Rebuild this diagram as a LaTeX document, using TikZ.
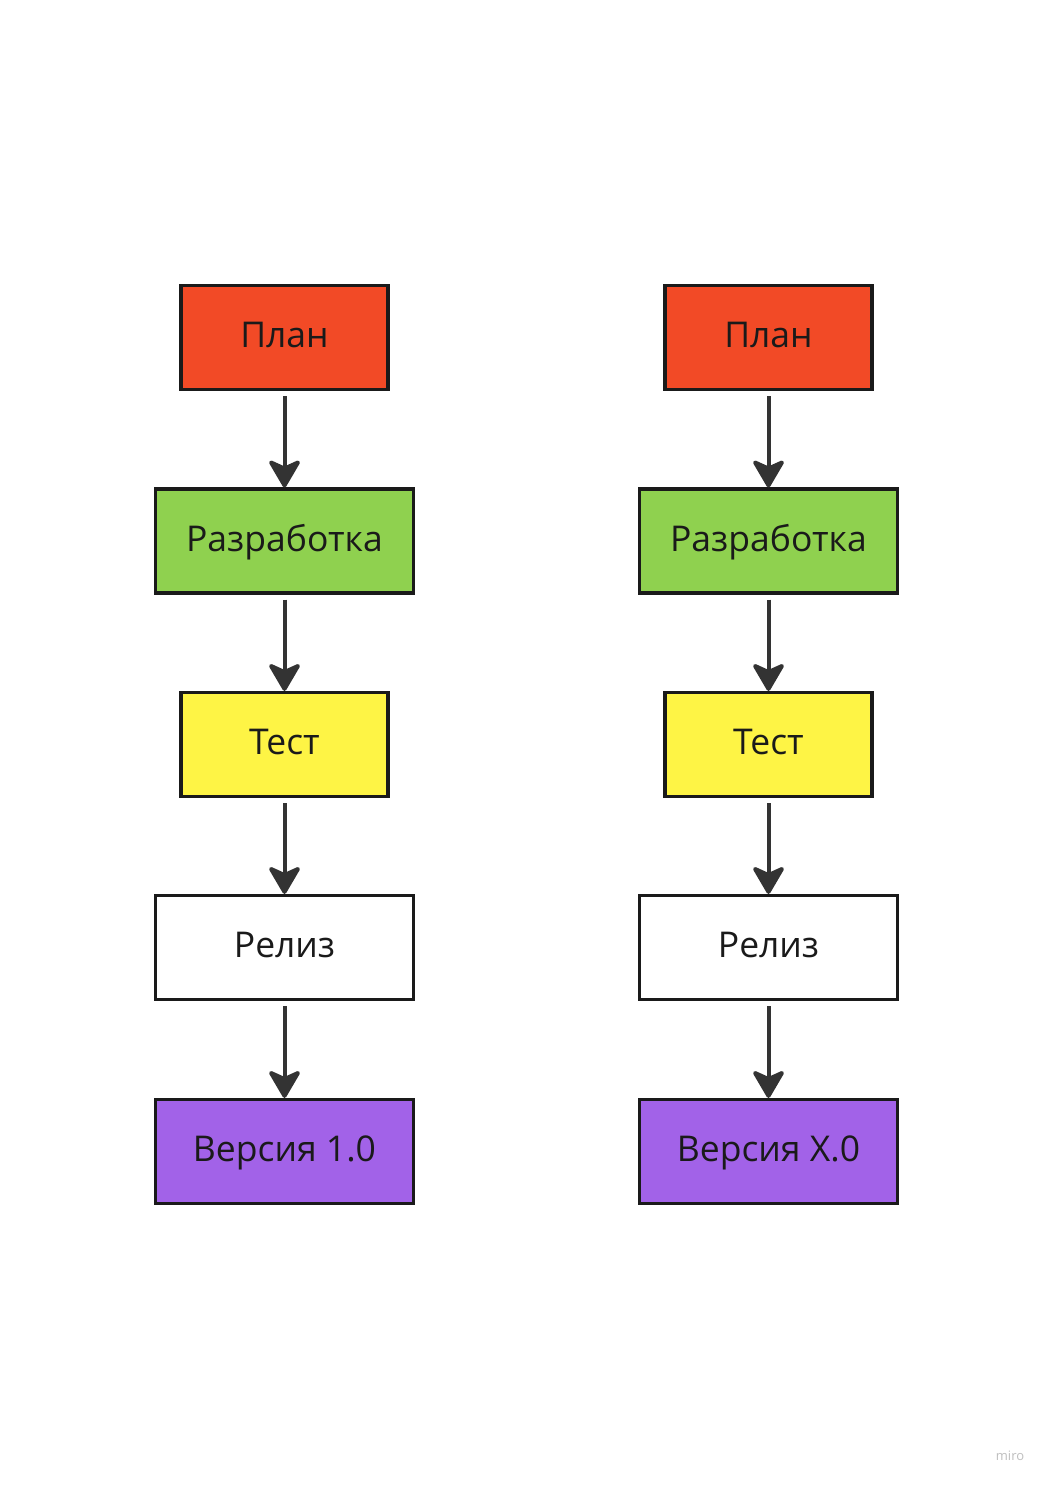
\documentclass[tikz,border=0pt]{standalone}
\usepackage{fontspec}
\setmainfont{Open Sans}
\usetikzlibrary{arrows.meta}
\definecolor{cred}{HTML}{F24A26}
\definecolor{cgreen}{HTML}{8FD14F}
\definecolor{cyellow}{HTML}{FEF445}
\definecolor{cpurple}{HTML}{A262E8}
\definecolor{edge}{HTML}{1A1A1A}
\definecolor{arr}{HTML}{333333}
\begin{document}
\begin{tikzpicture}[x=1pt,y=-1pt,
  box/.style={draw=edge,line width=3.2pt,minimum height=104pt,inner sep=0pt,
    text=edge,font=\fontsize{35.5}{40}\selectfont,text height=28pt,text depth=7.6pt},
  narrow/.style={box,minimum width=207pt},
  wide/.style={box,minimum width=258pt},
  flow/.style={draw=arr,line width=4pt,-{Stealth[length=31pt,width=36pt,inset=8pt,round]},shorten <=5pt}]
\useasboundingbox[fill=white] (0,0) rectangle (1051,1486);
\foreach \c/\x/\v in {l/284.5/1.0, r/768.5/X.0}{
  \node[narrow,fill=cred] (\c1) at (\x,337.5) {План};
  \node[wide,fill=cgreen] (\c2) at (\x,541) {Разработка};
  \node[narrow,fill=cyellow] (\c3) at (\x,744.5) {Тест};
  \node[wide,fill=white] (\c4) at (\x,947.5) {Релиз};
  \node[wide,fill=cpurple] (\c5) at (\x,1151.5) {Версия \v};
  \draw[flow] (\c1) -- (\c2);
  \draw[flow] (\c2) -- (\c3);
  \draw[flow] (\c3) -- (\c4);
  \draw[flow] (\c4) -- (\c5);
}
\node[text=black!25,font=\fontsize{13}{15}\selectfont] (wm) at (1010,1456) {miro};
\end{tikzpicture}
\end{document}
